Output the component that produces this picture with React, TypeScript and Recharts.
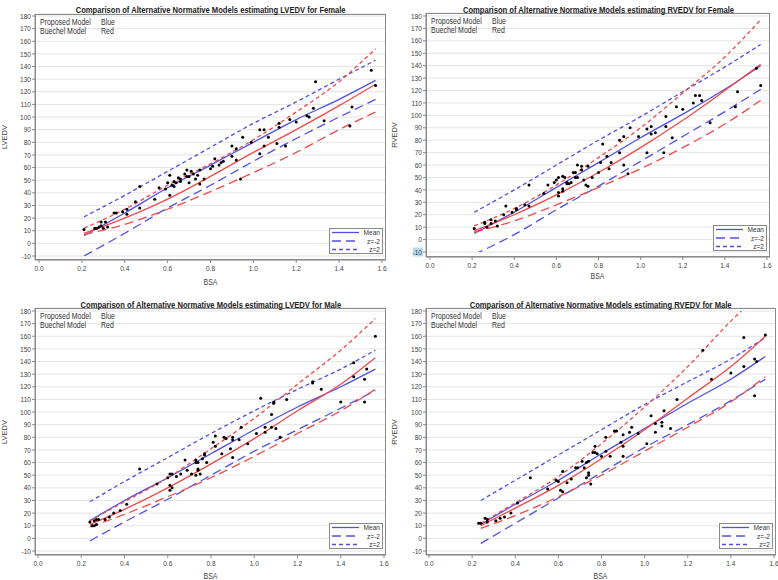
import React from 'react';
import { ComposedChart, Line, Scatter, XAxis, YAxis, CartesianGrid } from 'recharts';

const BLUE = '#5050e6';
const RED = '#f04a4a';
const FONT = '"Liberation Sans", Arial, sans-serif';

const xTicks = [0, 0.2, 0.4, 0.6, 0.8, 1.0, 1.2, 1.4, 1.6];
const yTicks = [-10, 0, 10, 20, 30, 40, 50, 60, 70, 80, 90, 100, 110, 120, 130, 140, 150, 160, 170, 180];

// LVEDV female
const lvfPtsX = [0.21, 0.26, 0.27, 0.28, 0.29, 0.29, 0.3, 0.31, 0.32, 0.35, 0.36, 0.39, 0.41, 0.41, 0.45, 0.47, 0.47, 0.54, 0.56, 0.59, 0.6, 0.61, 0.61, 0.62, 0.63, 0.63, 0.64, 0.65, 0.66, 0.66, 0.68, 0.69, 0.69, 0.7, 0.7, 0.71, 0.72, 0.73, 0.74, 0.75, 0.75, 0.77, 0.8, 0.81, 0.82, 0.84, 0.85, 0.86, 0.9, 0.9, 0.92, 0.92, 0.95, 0.94, 0.99, 1.03, 1.03, 1.05, 1.05, 1.07, 1.11, 1.12, 1.12, 1.15, 1.17, 1.2, 1.25, 1.26, 1.28, 1.29, 1.33, 1.45, 1.46, 1.55, 1.57];
const lvfPtsY = [11, 12, 12, 13, 14, 17, 12, 17, 13, 24, 24, 25, 27, 23, 33, 45, 28, 35, 44, 43, 48, 54, 38, 46, 49, 45, 48, 52, 49, 51, 55, 58, 53, 53, 48, 57, 55, 51, 54, 58, 47, 51, 59, 61, 67, 62, 64, 65, 77, 69, 75, 66, 84, 51, 80, 90, 71, 90, 77, 84, 79, 95, 92, 77, 98, 96, 101, 100, 107, 128, 97, 93, 108, 137, 125];
const lvfLineX = [0.21, 0.4, 0.6, 0.8, 1.0, 1.2, 1.4, 1.57];
const lvfBlueMean = [6, 24, 44, 62, 80, 98, 114, 129];
const lvfBlueLow = [-10, 8, 28, 46, 65, 83, 100, 114];
const lvfBlueHigh = [21, 38, 57, 76, 95, 112, 130, 145];
const lvfRedMean = [8, 20, 35, 53, 72, 90, 109, 126];
const lvfRedLow = [7, 15, 27, 41, 56, 72, 90, 104];
const lvfRedHigh = [12, 27, 46, 63, 82, 104, 128, 154];

// RVEDV female
const rvfPtsX = [0.21, 0.26, 0.26, 0.27, 0.29, 0.29, 0.31, 0.32, 0.35, 0.36, 0.39, 0.41, 0.41, 0.45, 0.47, 0.47, 0.54, 0.56, 0.59, 0.6, 0.61, 0.61, 0.61, 0.63, 0.63, 0.63, 0.64, 0.65, 0.65, 0.66, 0.67, 0.68, 0.69, 0.69, 0.7, 0.7, 0.72, 0.72, 0.73, 0.74, 0.75, 0.75, 0.77, 0.8, 0.81, 0.82, 0.84, 0.85, 0.86, 0.9, 0.9, 0.92, 0.92, 0.95, 0.94, 0.99, 1.03, 1.03, 1.05, 1.05, 1.07, 1.11, 1.12, 1.12, 1.15, 1.17, 1.2, 1.25, 1.26, 1.28, 1.29, 1.33, 1.45, 1.46, 1.55, 1.57];
const rvfPtsY = [9, 13, 14, 10, 16, 13, 15, 11, 20, 27, 22, 24, 25, 28, 44, 27, 37, 44, 46, 48, 50, 38, 35, 51, 41, 39, 50, 46, 45, 45, 46, 54, 54, 50, 50, 60, 59, 56, 48, 44, 43, 59, 50, 54, 62, 77, 67, 57, 62, 70, 80, 83, 60, 90, 53, 83, 70, 89, 91, 85, 86, 70, 99, 91, 82, 107, 105, 110, 116, 116, 112, 94, 107, 119, 138, 124];
const rvfLineX = [0.21, 0.4, 0.6, 0.8, 1.0, 1.2, 1.4, 1.57];
const rvfBlueMean = [5, 22, 42, 62, 82, 101, 121, 140];
const rvfBlueLow = [-12, 4, 24, 43, 63, 83, 103, 121];
const rvfBlueHigh = [22, 40, 60, 80, 99, 119, 139, 157];
const rvfRedMean = [7, 20, 36, 54, 74, 96, 120, 141];
const rvfRedLow = [6, 15, 28, 42, 57, 74, 93, 112];
const rvfRedHigh = [11, 25, 44, 66, 90, 118, 147, 177];

// LVEDV male
const lvmPtsX = [0.24, 0.25, 0.26, 0.27, 0.26, 0.27, 0.28, 0.31, 0.33, 0.35, 0.38, 0.41, 0.47, 0.55, 0.6, 0.61, 0.61, 0.62, 0.61, 0.62, 0.64, 0.66, 0.68, 0.69, 0.71, 0.73, 0.73, 0.73, 0.74, 0.74, 0.74, 0.75, 0.76, 0.77, 0.77, 0.78, 0.81, 0.82, 0.82, 0.85, 0.86, 0.87, 0.89, 0.9, 0.9, 0.9, 0.93, 0.94, 0.97, 1.01, 1.03, 1.05, 1.05, 1.08, 1.09, 1.09, 1.08, 1.1, 1.12, 1.15, 1.27, 1.27, 1.31, 1.4, 1.46, 1.46, 1.51, 1.51, 1.52, 1.56];
const lvmPtsY = [13, 10, 14, 15, 10, 11, 15, 15, 17, 20, 22, 27, 55, 43, 48, 42, 38, 40, 51, 51, 49, 51, 62, 54, 51, 62, 60, 50, 55, 54, 60, 51, 63, 67, 66, 60, 76, 73, 81, 67, 80, 79, 71, 80, 78, 64, 78, 88, 75, 83, 111, 88, 84, 98, 108, 107, 88, 87, 80, 110, 124, 123, 118, 108, 139, 128, 126, 108, 134, 160];
const lvmLineX = [0.24, 0.4, 0.6, 0.8, 1.0, 1.2, 1.4, 1.56];
const lvmBlueMean = [14, 30, 48, 67, 86, 104, 120, 134];
const lvmBlueLow = [-2, 13, 31, 50, 69, 86, 103, 117];
const lvmBlueHigh = [29, 45, 64, 83, 101, 118, 134, 149];
const lvmRedMean = [11, 23, 40, 59, 79, 101, 122, 143];
const lvmRedLow = [9, 19, 33, 48, 65, 83, 101, 118];
const lvmRedHigh = [14, 29, 48, 71, 95, 122, 149, 174];

// RVEDV male
const rvmPtsX = [0.23, 0.24, 0.26, 0.27, 0.27, 0.31, 0.33, 0.35, 0.38, 0.41, 0.47, 0.55, 0.59, 0.6, 0.61, 0.62, 0.62, 0.64, 0.66, 0.68, 0.69, 0.71, 0.72, 0.73, 0.73, 0.74, 0.74, 0.74, 0.75, 0.76, 0.77, 0.77, 0.78, 0.8, 0.82, 0.82, 0.84, 0.86, 0.87, 0.89, 0.9, 0.9, 0.9, 0.93, 0.94, 0.97, 1.01, 1.03, 1.05, 1.05, 1.08, 1.08, 1.09, 1.12, 1.15, 1.27, 1.31, 1.4, 1.46, 1.46, 1.51, 1.52, 1.51, 1.56];
const rvmPtsY = [12, 12, 16, 13, 15, 14, 16, 17, 20, 28, 48, 39, 46, 45, 38, 37, 53, 44, 47, 56, 56, 61, 56, 48, 60, 61, 50, 52, 43, 68, 73, 68, 67, 65, 69, 80, 65, 85, 85, 76, 82, 73, 65, 84, 88, 83, 75, 97, 91, 84, 92, 89, 101, 87, 110, 149, 126, 131, 159, 136, 142, 140, 113, 161];
const rvmLineX = [0.24, 0.4, 0.6, 0.8, 1.0, 1.2, 1.4, 1.56];
const rvmBlueMean = [11, 27, 46, 67, 87, 107, 126, 144];
const rvmBlueLow = [-4, 12, 32, 52, 72, 90, 109, 126];
const rvmBlueHigh = [30, 46, 66, 86, 106, 124, 142, 159];
const rvmRedMean = [10, 24, 42, 63, 86, 111, 136, 160];
const rvmRedLow = [8, 18, 33, 50, 69, 88, 108, 128];
const rvmRedHigh = [12, 28, 49, 75, 104, 136, 172, 198];

const panels = [
  {
    title: 'Comparison of Alternative Normative Models estimating LVEDV for Female', yLabel: 'LVEDV',
    ptsX: lvfPtsX, ptsY: lvfPtsY, lineX: lvfLineX,
    lines: [lvfBlueMean, lvfBlueLow, lvfBlueHigh, lvfRedMean, lvfRedLow, lvfRedHigh],
    box: { left: 0, top: 0, width: 390, height: 290 }, plot: { l: 35, t: 14, r: 386, b: 260 },
    pad: { l: 4, r: 4, t: 2, b: 4 }, titleY: 5, labelY: 282, mark: false,
  },
  {
    title: 'Comparison of Alternative Normative Models estimating RVEDV for Female', yLabel: 'RVEDV',
    ptsX: rvfPtsX, ptsY: rvfPtsY, lineX: rvfLineX,
    lines: [rvfBlueMean, rvfBlueLow, rvfBlueHigh, rvfRedMean, rvfRedLow, rvfRedHigh],
    box: { left: 390, top: 0, width: 388, height: 290 }, plot: { l: 36, t: 13, r: 380, b: 257 },
    pad: { l: 4, r: 3, t: 3, b: 5 }, titleY: 5, labelY: 276, mark: true,
  },
  {
    title: 'Comparison of Alternative Normative Models estimating LVEDV for Male', yLabel: 'LVEDV',
    ptsX: lvmPtsX, ptsY: lvmPtsY, lineX: lvmLineX,
    lines: [lvmBlueMean, lvmBlueLow, lvmBlueHigh, lvmRedMean, lvmRedLow, lvmRedHigh],
    box: { left: 0, top: 290, width: 390, height: 290 }, plot: { l: 35, t: 18, r: 386, b: 265 },
    pad: { l: 3, r: 2, t: 3, b: 4 }, titleY: 10, labelY: 286, mark: false,
  },
  {
    title: 'Comparison of Alternative Normative Models estimating RVEDV for Male', yLabel: 'RVEDV',
    ptsX: rvmPtsX, ptsY: rvmPtsY, lineX: rvmLineX,
    lines: [rvmBlueMean, rvmBlueLow, rvmBlueHigh, rvmRedMean, rvmRedLow, rvmRedHigh],
    box: { left: 390, top: 290, width: 388, height: 290 }, plot: { l: 36, t: 18, r: 386, b: 265 },
    pad: { l: 3, r: 2, t: 3, b: 4 }, titleY: 10, labelY: 286, mark: false,
  },
];

const lineStyles = [
  { color: BLUE, dash: undefined },
  { color: BLUE, dash: '9 5' },
  { color: BLUE, dash: '4 3' },
  { color: RED, dash: undefined },
  { color: RED, dash: '9 5' },
  { color: RED, dash: '4 3' },
];

const XTick = (props: any) => {
  const { x, y, payload } = props;
  return (
    <g transform={`translate(${x},${y})`}>
      <text textAnchor="middle" dy="0.71em" transform="scale(0.82,1)" fontSize={8} fill="#444" fontFamily={FONT}>
        {Number(payload.value).toFixed(1)}
      </text>
    </g>
  );
};

const makeYTick = (mark: boolean) => (props: any) => {
  const { x, y, payload } = props;
  return (
    <g transform={`translate(${x},${y})`}>
      {mark && payload.value === -10 && <rect x={-9} y={-4.5} width={10} height={9} fill="#b3dcf2" />}
      <text textAnchor="end" dy="0.33em" transform="scale(0.82,1)" fontSize={8} fill="#444" fontFamily={FONT}>
        {payload.value}
      </text>
    </g>
  );
};

const Dot = (props: any) => <circle cx={props.cx} cy={props.cy} r={1.5} fill="#000" />;

const Panel = ({ cfg }: { cfg: any }) => {
  const { box, plot, pad } = cfg;
  const points = cfg.ptsX.map((x: number, i: number) => ({ x, y: cfg.ptsY[i] }));
  const lgLeft = plot.r - 3 - 54;
  const lgTop = plot.b - 6 - 26;
  return (
    <div style={{ position: 'absolute', left: box.left, top: box.top, width: box.width, height: box.height, fontFamily: FONT }}>
      <ComposedChart width={box.width} height={box.height} margin={{ top: plot.t, right: box.width - plot.r, left: 0, bottom: 0 }}>
        <CartesianGrid vertical={false} stroke="#e4e4e4" />
        <XAxis dataKey="x" type="number" domain={[0, 1.6]} ticks={xTicks} interval={0} height={box.height - plot.b}
          padding={{ left: pad.l, right: pad.r }} tick={XTick} tickSize={3} tickMargin={2} stroke="#8a8a8a" allowDataOverflow />
        <YAxis dataKey="y" type="number" domain={[-10, 180]} ticks={yTicks} interval={0} width={plot.l}
          padding={{ top: pad.t, bottom: pad.b }} tick={makeYTick(cfg.mark)} tickSize={3} tickMargin={1} stroke="#8a8a8a" allowDataOverflow />
        {cfg.lines.map((ys: number[], i: number) => (
          <Line key={i} data={cfg.lineX.map((x: number, j: number) => ({ x, y: ys[j] }))} dataKey="y" type="monotone"
            stroke={lineStyles[i].color} strokeWidth={1.3} strokeDasharray={lineStyles[i].dash} dot={false}
            activeDot={false} isAnimationActive={false} />
        ))}
        <Scatter data={points} dataKey="y" shape={Dot} isAnimationActive={false} />
      </ComposedChart>

      {/* plot frame */}
      <div style={{ position: 'absolute', left: plot.l, top: plot.t, width: plot.r - plot.l, height: plot.b - plot.t, boxSizing: 'border-box', border: '1px solid #8a8a8a', pointerEvents: 'none' }} />

      <div style={{ position: 'absolute', left: plot.l, width: plot.r - plot.l, top: cfg.titleY - 6, textAlign: 'center', whiteSpace: 'nowrap' }}>
        <span style={{ display: 'inline-block', transform: 'scaleX(0.8)', fontSize: 9.5, fontWeight: 'bold', color: '#222', lineHeight: '12px' }}>{cfg.title}</span>
      </div>

      {[['Proposed Model', 'Blue'], ['Buechel Model', 'Red']].map((row, i) => (
        <div key={i} style={{ position: 'absolute', left: plot.l + 5, top: plot.t + 3 + i * 9.3, fontSize: 8.5, color: '#333', lineHeight: '10px', whiteSpace: 'nowrap' }}>
          <span style={{ display: 'inline-block', transform: 'scaleX(0.82)', transformOrigin: 'left' }}>{row[0]}</span>
          <span style={{ position: 'absolute', left: 61, display: 'inline-block', transform: 'scaleX(0.82)', transformOrigin: 'left' }}>{row[1]}</span>
        </div>
      ))}

      <div style={{ position: 'absolute', left: plot.l, width: plot.r - plot.l, top: cfg.labelY - 6, textAlign: 'center', fontSize: 8.5, color: '#444', lineHeight: '12px' }}>
        <span style={{ display: 'inline-block', transform: 'scaleX(0.82)' }}>BSA</span>
      </div>
      <div style={{ position: 'absolute', left: 5 - 30, width: 60, top: (plot.t + plot.b) / 2 - 6, textAlign: 'center', fontSize: 7.5, color: '#444', lineHeight: '12px', transform: 'rotate(-90deg)' }}>
        {cfg.yLabel}
      </div>

      <svg style={{ position: 'absolute', left: lgLeft, top: lgTop }} width={54} height={26}>
        <rect x={0.5} y={0.5} width={53} height={25} fill="#fff" stroke="#8a8a8a" />
        {['Mean', 'z=-2', 'z=2'].map((t, i) => (
          <g key={t}>
            <line x1={3} x2={30} y1={4.5 + i * 8.5} y2={4.5 + i * 8.5} stroke={BLUE} strokeWidth={1.3} strokeDasharray={lineStyles[i].dash} />
            <g transform={`translate(51,${4.5 + i * 8.5})`}>
              <text textAnchor="end" dy="0.33em" fontSize={8} fill="#333" fontFamily={FONT} transform="scale(0.82,1)">{t}</text>
            </g>
          </g>
        ))}
      </svg>
    </div>
  );
};

export default function App() {
  return (
    <div style={{ position: 'absolute', left: 0, top: 0, width: 778, height: 580, background: '#fff', overflow: 'hidden' }}>
      {panels.map((p, i) => <Panel key={i} cfg={p} />)}
    </div>
  );
}
